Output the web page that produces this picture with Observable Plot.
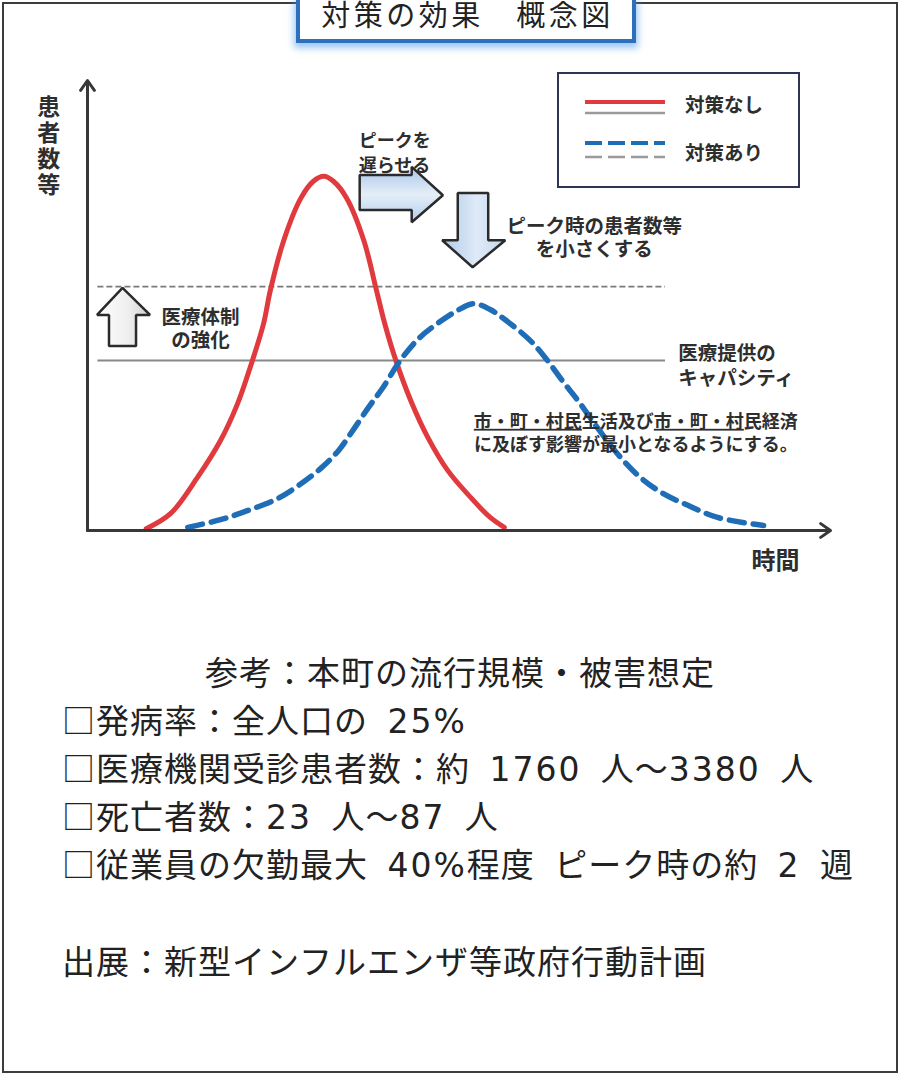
<!DOCTYPE html>
<html lang="ja">
<head>
<meta charset="utf-8">
<script src="https://cdn.jsdelivr.net/npm/d3@7"></script>
<script src="https://cdn.jsdelivr.net/npm/@observablehq/plot@0.6"></script>
<style>
html,body{margin:0;padding:0;background:#fff;}
body{width:900px;height:1075px;overflow:hidden;position:relative;font-family:"Noto Sans CJK JP",sans-serif;}
#frame{position:absolute;left:2px;top:2px;width:896px;height:1071px;box-sizing:border-box;border:2px solid #3c3c3c;}
#chart{position:absolute;left:0;top:0;}
#legend{position:absolute;left:557px;top:72px;}
#title{position:absolute;left:296px;top:0;width:340px;height:43px;box-sizing:border-box;border:4px solid #2b6fbd;border-top:0;background:#fff;
  box-shadow:0 3px 7px 2px rgba(90,160,235,.6);font-family:"Liberation Sans","Noto Sans CJK JP",sans-serif;font-size:29px;letter-spacing:3.5px;
  color:#222;text-align:center;line-height:33px;white-space:pre;padding-left:3px;}
.note{position:absolute;font-size:33px;line-height:34px;letter-spacing:1px;color:#222;white-space:pre;word-spacing:11px;}
.n{font-family:"DejaVu Sans",sans-serif;letter-spacing:2px;}
</style>
</head>
<body>
<div id="frame"></div>
<div id="chart"></div>
<div id="legend"></div>
<div id="title"></div>
<div id="notes"></div>
<script>
// ---------- data ----------
const chartTitle = "対策の効果　概念図";
const seriesNames = ["対策なし", "対策あり"];
const seriesColors = ["#e03a3e", "#1f6db6"];
const axisLabels = {y: "患者数等", x: "時間"};

// 対策なし (no measures): time vs patients (concept units, 0–100)
const timeNoMeasure = [7.9, 11.2, 14.8, 17.9, 20.2, 22.2, 23.7, 24.6, 26.4, 28.7, 30.4, 31.8,
                       33.1, 34.9, 37.2, 38.9, 40.0, 41.5, 43.5, 45.8, 48.5, 51.6, 54.2, 56.1];
const patientsNoMeasure = [0.4, 3.8, 11.8, 20.0, 28.2, 37.8, 46.0, 53.3, 64.4, 73.8, 77.6, 78.7,
                           77.6, 73.8, 64.4, 53.3, 46.0, 37.8, 28.9, 20.7, 13.3, 7.3, 2.9, 0.7];

// 対策あり (with measures)
const timeWithMeasure = [13.5, 17.9, 21.5, 25.6, 28.4, 31.4, 33.8, 35.7, 37.8, 39.7, 42.1, 44.6, 47.1, 49.8,
                         52.0, 54.2, 56.0, 59.6, 61.9, 63.9, 66.0, 68.6, 71.3, 74.4, 77.5, 80.8, 84.8, 91.0];
const patientsWithMeasure = [0.7, 2.4, 4.4, 7.1, 10.0, 13.8, 17.8, 22.2, 27.3, 31.6, 37.8, 42.7, 46.0, 48.9,
                             50.4, 49.1, 47.1, 42.2, 37.8, 33.3, 28.9, 22.9, 17.1, 11.8, 8.2, 5.6, 2.9, 1.1];

// capacity levels (current / strengthened) and their time span
const capacityLevels = [37.8, 54.2];
const capacitySpan = [1.4, 77.8];

// annotation texts
const annotationTexts = {
  delay: "ピークを\n遅らせる",
  reduce: "ピーク時の患者数等\nを小さくする",
  strengthen: "医療体制\nの強化",
  capacity: "医療提供の\nキャパシティ",
  economy: "市・町・村民生活及び市・町・村民経済\nに及ぼす影響が最小となるようにする。"
};
const economyUnderline = [["市・町・村民", true], ["生活及び", false], ["市・町・村", true], ["民経済", false]];

const referenceNotes = [
  "参考：本町の流行規模・被害想定",
  "□発病率：全人口の 25%",
  "□医療機関受診患者数：約 1760 人～3380 人",
  "□死亡者数：23 人～87 人",
  "□従業員の欠勤最大 40%程度 ピーク時の約 2 週",
  "出展：新型インフルエンザ等政府行動計画"
];

// ---------- layout (data-unit positions for annotations / block arrows) ----------
const noMeasure = timeNoMeasure.map((t, i) => ({t, v: patientsNoMeasure[i]}));
const withMeasure = timeWithMeasure.map((t, i) => ({t, v: patientsWithMeasure[i]}));
const rules = capacityLevels.map((level, i) => ({level, from: capacitySpan[0], to: capacitySpan[1], kind: i}));
const axesArrows = [{x1: 0, y1: 0, x2: 0, y2: 100}, {x1: 0, y1: 0, x2: 100, y2: 0}];

const rightArrow = [
  {x: 36.7, lo: 71.1, hi: 78.9}, {x: 43.7, lo: 71.1, hi: 78.9},
  {x: 43.7, lo: 68.4, hi: 80.7}, {x: 47.9, lo: 74.4, hi: 74.4}
];
const downArrow = [
  {y: 74.9, lo: 49.9, hi: 54.0}, {y: 64.4, lo: 49.9, hi: 54.0},
  {y: 64.4, lo: 47.8, hi: 56.3}, {y: 58.4, lo: 51.9, hi: 51.9}
];
const upArrow = [
  {y: 40.9, lo: 2.96, hi: 6.6}, {y: 47.8, lo: 2.96, hi: 6.6},
  {y: 47.8, lo: 1.35, hi: 8.48}, {y: 53.8, lo: 4.78, hi: 4.78}
];

const FONT = "'Liberation Sans', 'Noto Sans CJK JP', sans-serif";
const TXT = "#2e2e2e";
const label = (d, o) => Plot.text([d], {x: "x", y: "y", text: "text", fill: TXT, fontWeight: 700, fontFamily: FONT, lineAnchor: "middle", ...o});

const chart = Plot.plot({
  width: 900, height: 600,
  marginLeft: 87, marginRight: 70, marginTop: 80, marginBottom: 70,
  x: {domain: [0, 100], axis: null},
  y: {domain: [0, 100], axis: null},
  style: {background: "transparent", overflow: "visible", fontFamily: FONT},
  marks: [
    Plot.ruleY(rules.filter(d => d.kind === 1), {y: "level", x1: "from", x2: "to", stroke: "#7a7a7a", strokeWidth: 1.8, strokeDasharray: "6,3"}),
    Plot.ruleY(rules.filter(d => d.kind === 0), {y: "level", x1: "from", x2: "to", stroke: "#888", strokeWidth: 2}),
    Plot.line(noMeasure, {x: "t", y: "v", stroke: seriesColors[0], strokeWidth: 5, curve: "catmull-rom", strokeLinecap: "round"}),
    Plot.line(withMeasure, {x: "t", y: "v", stroke: seriesColors[1], strokeWidth: 5.5, curve: "catmull-rom", strokeDasharray: "15,9"}),
    Plot.arrow(axesArrows, {x1: "x1", y1: "y1", x2: "x2", y2: "y2", stroke: "#383838", strokeWidth: 3, headLength: 6, headAngle: 70}),
    Plot.area(rightArrow, {x1: "x", x2: "x", y1: "lo", y2: "hi", curve: "linear", fill: "url(#gradRight)", stroke: "#2b2b2b", strokeWidth: 2.5, strokeLinejoin: "miter"}),
    Plot.area(downArrow, {y1: "y", y2: "y", x1: "lo", x2: "hi", curve: "linear", fill: "url(#gradDown)", stroke: "#2b2b2b", strokeWidth: 2.5, strokeLinejoin: "miter"}),
    Plot.area(upArrow, {y1: "y", y2: "y", x1: "lo", x2: "hi", curve: "linear", fill: "url(#gradUp)", stroke: "#2b2b2b", strokeWidth: 2.5, strokeLinejoin: "miter"}),
    label({x: -5.2, y: 96.4, text: axisLabels.y.split("").join("\n")}, {fontSize: 23, lineAnchor: "top", lineHeight: 1.13}),
    label({x: 92.6, y: -6.9, text: axisLabels.x}, {fontSize: 24}),
    label({x: 36.5, y: 84.3, text: annotationTexts.delay}, {fontSize: 18, textAnchor: "start", lineHeight: 1.39}),
    label({x: 68.2, y: 65.2, text: annotationTexts.reduce}, {fontSize: 19.5, lineHeight: 1.18}),
    label({x: 15.2, y: 45.0, text: annotationTexts.strengthen}, {fontSize: 19.5, lineHeight: 1.18}),
    label({x: 79.5, y: 36.8, text: annotationTexts.capacity}, {fontSize: 19.5, textAnchor: "start", lineHeight: 1.28}),
    label({x: 73.8, y: 21.9, text: annotationTexts.economy}, {fontSize: 18, lineHeight: 1.28})
  ]
});

// gradients for the block arrows
const defs = d3.select(chart).insert("defs", ":first-child");
function grad(id, x2, y2, stops) {
  const g = defs.append("linearGradient").attr("id", id).attr("x1", 0).attr("y1", 0).attr("x2", x2).attr("y2", y2);
  stops.forEach(([o, c]) => g.append("stop").attr("offset", o).attr("stop-color", c));
}
grad("gradRight", 0, 1, [[0, "#a9c6e8"], [0.5, "#e4eef9"], [1, "#b3cdea"]]);
grad("gradDown", 1, 0, [[0, "#b0cbea"], [0.55, "#dfeaf7"], [1, "#c2d7ef"]]);
grad("gradUp", 1, 0, [[0, "#ffffff"], [0.6, "#eeeeee"], [1, "#cfcfcf"]]);

// underline parts of the economy line
d3.select(chart).selectAll("tspan")
  .filter(function () { return this.textContent === annotationTexts.economy.split("\n")[0]; })
  .each(function () {
    const t = d3.select(this);
    t.text(null);
    economyUnderline.forEach(([s, u]) => t.append("tspan").attr("text-decoration", u ? "underline" : null).text(s));
  });

document.getElementById("chart").appendChild(chart);

// legend
const lg = d3.select("#legend").append("svg").attr("width", 243).attr("height", 116);
lg.append("rect").attr("x", 1).attr("y", 1).attr("width", 241).attr("height", 114)
  .attr("fill", "#fff").attr("stroke", "#2d3552").attr("stroke-width", 2);
seriesNames.forEach((name, i) => {
  const y0 = [30, 71][i];
  const dash = i === 1 ? "17,6" : null;
  lg.append("line").attr("x1", 28).attr("x2", 108).attr("y1", y0).attr("y2", y0)
    .attr("stroke", seriesColors[i]).attr("stroke-width", 4).attr("stroke-dasharray", dash);
  lg.append("line").attr("x1", 28).attr("x2", 108).attr("y1", y0 + (i ? 14 : 11)).attr("y2", y0 + (i ? 14 : 11))
    .attr("stroke", "#9a9a9a").attr("stroke-width", 2.5).attr("stroke-dasharray", dash);
  lg.append("text").attr("x", 128).attr("y", y0 + (i ? 10 : 3)).attr("dominant-baseline", "central")
    .attr("font-family", FONT).attr("font-weight", 700).attr("font-size", 19.5)
    .attr("fill", TXT).text(name);
});

// title
document.getElementById("title").textContent = chartTitle;

// reference notes
const noteCenters = [673, 721, 769, 817, 865, 962];
const noteLefts = [205, 62, 62, 62, 62, 62];
const notes = d3.select("#notes");
referenceNotes.forEach((s, i) => {
  const html = s.replace(/([0-9]+%?)/g, '<span class="n">$1</span>');
  notes.append("div").attr("class", "note").style("top", (noteCenters[i] - 19) + "px").style("left", noteLefts[i] + "px").html(html);
});
</script>
</body>
</html>
